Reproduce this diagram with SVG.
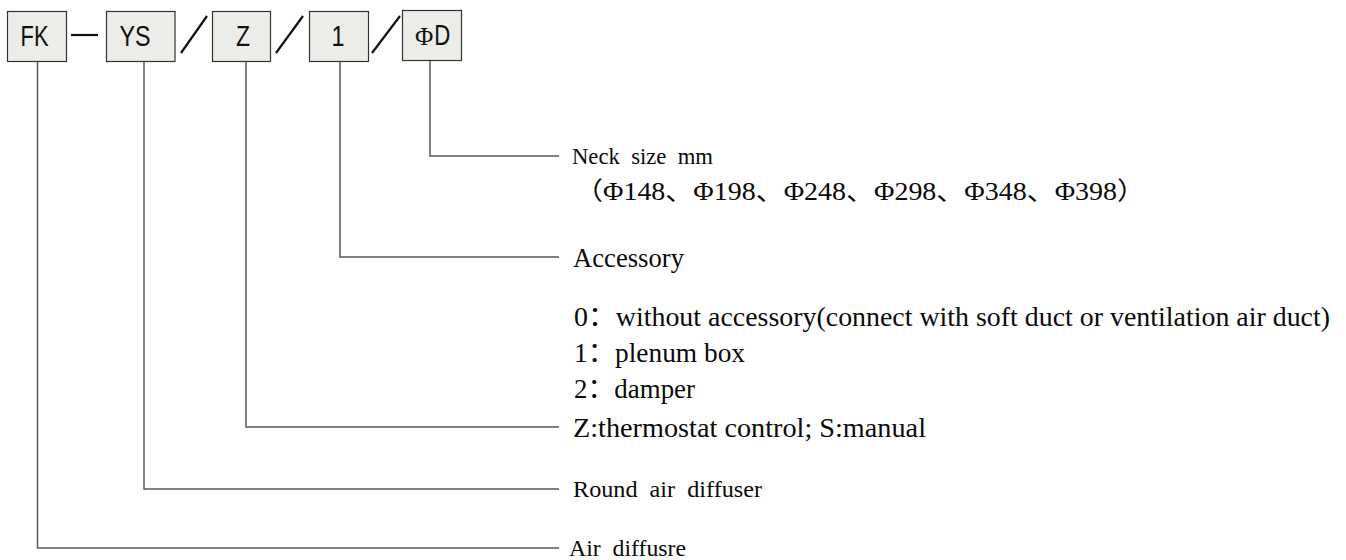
<svg xmlns="http://www.w3.org/2000/svg" width="1346" height="560" viewBox="0 0 1346 560">
  <style>
    .box { fill: #ecece8; stroke: #333333; stroke-width: 1.2; }
    .code { font-family: "Liberation Sans", "Noto Sans CJK SC", sans-serif; font-size: 29px; fill: #111111; }
    .phi { font-family: "Liberation Serif", serif; }
    .sep { stroke: #111111; stroke-width: 2.2; fill: none; }
    .lead { stroke: #585858; stroke-width: 1.5; fill: none; }
    .label { font-family: "Liberation Serif", "Noto Sans CJK SC", serif; fill: #0a0a0a; }
    .pre { white-space: pre; }
  </style>

  <!-- code boxes -->
  <g id="node-fk">
    <rect class="box" x="7.5" y="11.5" width="59" height="50"/>
    <text class="code" x="20.5" y="46" textLength="28" lengthAdjust="spacingAndGlyphs">FK</text>
  </g>
  <g id="node-ys">
    <rect class="box" x="106.5" y="11.5" width="68.5" height="50"/>
    <text class="code" x="119.5" y="46" textLength="31" lengthAdjust="spacingAndGlyphs">YS</text>
  </g>
  <g id="node-z">
    <rect class="box" x="212.5" y="11.5" width="58" height="50"/>
    <text class="code" x="236" y="46" textLength="14" lengthAdjust="spacingAndGlyphs">Z</text>
  </g>
  <g id="node-1">
    <rect class="box" x="309.5" y="11.5" width="59" height="50"/>
    <text class="code" x="331.5" y="46" textLength="13" lengthAdjust="spacingAndGlyphs">1</text>
  </g>
  <g id="node-d">
    <rect class="box" x="402.5" y="10.5" width="59" height="50"/>
    <text class="code" x="415" y="45"><tspan class="phi" font-size="25">Φ</tspan><tspan dx="1" textLength="16" lengthAdjust="spacingAndGlyphs">D</tspan></text>
  </g>

  <!-- separators between the code fields -->
  <g id="separators">
    <line class="sep" x1="71" y1="35" x2="98" y2="35" stroke-width="1.4"/>
    <line class="sep" x1="181" y1="53" x2="207" y2="16"/>
    <line class="sep" x1="276" y1="53" x2="303" y2="16"/>
    <line class="sep" x1="372" y1="53" x2="400" y2="16"/>
  </g>

  <!-- leader lines from each field to its explanation -->
  <g id="connectors">
    <polyline class="lead" points="430,61 430,156 559,156"/>
    <polyline class="lead" points="340,62 340,257 559,257"/>
    <polyline class="lead" points="246,62 246,427 559,427"/>
    <polyline class="lead" points="144,62 144,489 559,489"/>
    <polyline class="lead" points="37.5,62 37.5,548 559,548"/>
  </g>

  <!-- explanations -->
  <g id="label-neck">
    <text class="label pre" x="572" y="164" font-size="23" textLength="141" lengthAdjust="spacingAndGlyphs">Neck  size  mm</text>
    <text class="label" x="575" y="200" font-size="25" textLength="570" lengthAdjust="spacingAndGlyphs">（Φ148、Φ198、Φ248、Φ298、Φ348、Φ398）</text>
  </g>
  <g id="label-accessory">
    <text class="label" x="573" y="267" font-size="28" textLength="111" lengthAdjust="spacingAndGlyphs">Accessory</text>
    <text class="label" x="574" y="326" font-size="27" textLength="756" lengthAdjust="spacingAndGlyphs">0：without accessory(connect with soft duct or ventilation air duct)</text>
    <text class="label" x="574" y="362" font-size="27" textLength="171" lengthAdjust="spacingAndGlyphs">1：plenum box</text>
    <text class="label" x="574" y="398" font-size="27" textLength="121" lengthAdjust="spacingAndGlyphs">2：damper</text>
  </g>
  <g id="label-control">
    <text class="label" x="573" y="437" font-size="27" textLength="353" lengthAdjust="spacingAndGlyphs">Z:thermostat control; S:manual</text>
  </g>
  <g id="label-round">
    <text class="label pre" x="573" y="497" font-size="23" textLength="189" lengthAdjust="spacingAndGlyphs">Round  air  diffuser</text>
  </g>
  <g id="label-air">
    <text class="label pre" x="569" y="556" font-size="23" textLength="117" lengthAdjust="spacingAndGlyphs">Air  diffusre</text>
  </g>
</svg>
